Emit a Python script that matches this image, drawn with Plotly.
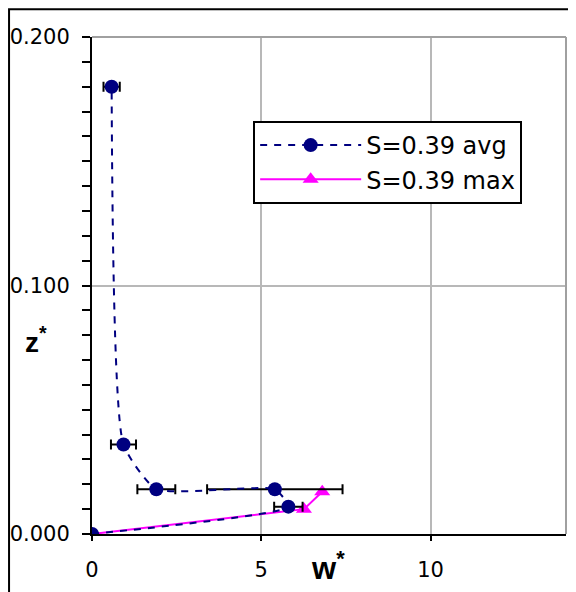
import plotly.graph_objects as go

# ---- data ----
w_avg = [0.0, 5.8, 5.4, 1.9, 0.93, 0.58]
z_avg = [0.0, 0.011, 0.018, 0.018, 0.036, 0.180]
w_avg_err = [0.0, 0.42, 2.0, 0.56, 0.37, 0.24]

w_max = [0.0, 6.26, 6.80]
z_max = [0.0, 0.010, 0.017]

name_avg = "S=0.39 avg"
name_max = "S=0.39 max"

x_range = [0, 14]
y_range = [0, 0.2]

TICK_FONT = dict(family="DejaVu Sans", size=21, color="black")

fig = go.Figure()

fig.add_trace(go.Scatter(
    x=w_max, y=z_max, name=name_max, mode="lines+markers",
    line=dict(color="#FF00FF", width=2),
    marker=dict(symbol="triangle-up", size=14, color="#FF00FF"),
))
fig.add_trace(go.Scatter(
    x=w_avg, y=z_avg, name=name_avg, mode="lines+markers",
    line=dict(color="#000080", width=2, dash="7px,7px", shape="spline", smoothing=0.5),
    marker=dict(symbol="circle", size=14, color="#000080"),
    error_x=dict(type="data", array=w_avg_err, color="black", thickness=2, width=5),
))

# the page body has an 8px margin, so the figure is sized to the visible area
fig.update_layout(
    width=568, height=584,
    margin=dict(l=84, r=10, t=29, b=58),
    paper_bgcolor="white", plot_bgcolor="white",
    showlegend=True,
    legend=dict(
        x=0.34, y=0.831, xanchor="left", yanchor="top",
        bgcolor="white", bordercolor="black", borderwidth=2,
        font=dict(family="DejaVu Sans", size=24, color="black"),
        itemwidth=101, traceorder="reversed",
    ),
    xaxis=dict(
        range=x_range, tick0=0, dtick=5, automargin=False,
        showline=True, linecolor="black", linewidth=2,
        ticks="outside", ticklen=5, tickwidth=2, tickcolor="black",
        showgrid=True, gridcolor="#b8b8b8", gridwidth=1.5,
        zeroline=False, tickfont=TICK_FONT, ticklabelstandoff=11,
    ),
    yaxis=dict(
        range=y_range, tick0=0, dtick=0.1, tickformat=".3f", automargin=False,
        showline=True, linecolor="black", linewidth=2,
        ticks="outside", ticklen=8, tickwidth=2, tickcolor="black",
        minor=dict(dtick=0.01, ticks="outside", ticklen=8, tickwidth=2,
                   tickcolor="black", showgrid=False),
        showgrid=True, gridcolor="#b8b8b8", gridwidth=1.5,
        zeroline=False, tickfont=TICK_FONT, ticklabelstandoff=8,
    ),
    yaxis2=dict(
        range=y_range, overlaying="y", anchor="x", side="left", automargin=False,
        tick0=0, dtick=0.1, ticks="inside", ticklen=5, tickwidth=2, tickcolor="black",
        minor=dict(dtick=0.01, ticks="inside", ticklen=5, tickwidth=2,
                   tickcolor="black", showgrid=False),
        showticklabels=False, showgrid=False, showline=False, zeroline=False,
    ),
    shapes=[
        dict(type="line", xref="paper", yref="paper", x0=1, x1=1, y0=0, y1=1,
             line=dict(color="#a0a0a0", width=2)),
        dict(type="line", xref="paper", yref="paper", x0=0, x1=1, y0=1, y1=1,
             line=dict(color="#a0a0a0", width=2)),
        dict(type="rect", xref="paper", yref="paper",
             x0=-0.175, x1=1.017, y0=-0.2, y1=1.056,
             line=dict(color="black", width=2)),
    ],
    annotations=[
        dict(text="<b>z<sup>*</sup></b>", xref="paper", yref="paper",
             x=-0.1456, y=0.39, xanchor="left", yanchor="middle", showarrow=False,
             font=dict(family="Liberation Sans", size=28, color="black")),
        dict(text="<b>w<sup>*</sup></b>", xref="paper", yref="paper",
             x=0.458, y=-0.064, xanchor="left", yanchor="middle", showarrow=False,
             font=dict(family="Liberation Sans", size=31, color="black")),
    ],
)

fig.write_html("out.html")
